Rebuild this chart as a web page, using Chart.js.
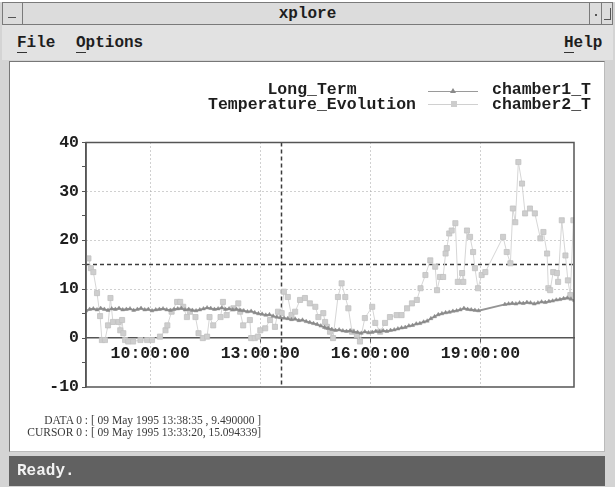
<!DOCTYPE html>
<html>
<head>
<meta charset="utf-8">
<script src="https://cdn.jsdelivr.net/npm/chart.js@4.4.1/dist/chart.umd.min.js"></script>
<style>
  body { margin: 0; width: 615px; height: 488px; background: #fff; position: relative; overflow: hidden;
         font-family: 'Liberation Mono', monospace; color: #1e1e1e; }
  .abs { position: absolute; }
  #win { left: 0; top: 2px; width: 615px; height: 485px; background: #d4d4d4; }
  #title { left: 2px; top: 2px; width: 609px; height: 21px; background: #dcdcdc; border: 1px solid #7a7a7a; }
  #title .txt { left: 0; width: 609px; top: 2px; text-align: center; font-weight: bold; font-size: 16px; }
  #btnL { left: 0; top: 0; width: 19px; height: 21px; border-right: 1px solid #7a7a7a; }
  #btnL i { position: absolute; left: 5px; top: 14px; width: 8px; height: 1px; background: #555; }
  #btnR1 { left: 586px; top: 0; width: 11px; height: 21px; border-left: 1px solid #7a7a7a; }
  #btnR1 i { position: absolute; left: 5px; top: 11px; width: 2px; height: 2px; background: #555; }
  #btnR2 { left: 598px; top: 0; width: 11px; height: 21px; border-left: 1px solid #7a7a7a; }
  #btnR2 i { position: absolute; left: 2px; top: 5px; width: 6px; height: 11px; border-right: 1px solid #555; border-bottom: 1px solid #555; }
  #menu { left: 2px; top: 25px; width: 611px; height: 35px; background: #e2e2e2; font-weight: bold; font-size: 16px; }
  #menu span { position: absolute; top: 9px; }
  #menu u { text-decoration: none; border-bottom: 1px solid #333; }
  #panel { left: 9px; top: 61px; width: 594px; height: 389px; background: #fff; border: 1px solid #777; border-right-color: #bbb; border-bottom-color: #bbb; }
  #status { left: 9px; top: 456px; width: 596px; height: 30px; background: #616161; color: #f2f2f2;
            font-weight: bold; font-size: 16px; }
  #status span { position: absolute; left: 8px; top: 6px; }
  #chart { left: 12px; top: 64px; }
  .leg { font-weight: bold; font-size: 16.5px; line-height: 15px; }
  #legTitle { left: 190px; width: 244px; top: 82px; text-align: center; }
  .sample { position: absolute; left: 428px; width: 50px; height: 1px; }
  .sample i { position: absolute; left: 22px; }
  #cursor { left: 14px; top: 414px; font-family: 'Liberation Serif', serif; font-size: 11.5px; line-height: 12px; color: #3a3a3a; }
  #cursor .lab { display: inline-block; width: 74px; text-align: right; }
</style>
</head>
<body>
<div id="win" class="abs"></div>
<div id="title" class="abs">
  <div id="btnL" class="abs"><i></i></div>
  <div class="abs txt">xplore</div>
  <div id="btnR1" class="abs"><i></i></div>
  <div id="btnR2" class="abs"><i></i></div>
</div>
<div id="menu" class="abs">
  <span style="left:15px"><u>F</u>ile</span>
  <span style="left:74px"><u>O</u>ptions</span>
  <span style="left:562px"><u>H</u>elp</span>
</div>
<div id="panel" class="abs"></div>
<canvas id="chart" class="abs" width="590" height="380"></canvas>

<div id="legTitle" class="abs leg">Long_Term<br>Temperature_Evolution</div>
<div class="sample" style="top:91px;background:#9a9a9a"><i style="top:-3px;width:0;height:0;border-left:3px solid transparent;border-right:3px solid transparent;border-bottom:5px solid #8a8a8a"></i></div>
<div class="sample" style="top:104px;background:#d0d0d0"><i style="top:-3px;left:23px;width:6px;height:6px;background:#cdcdcd"></i></div>
<div class="abs leg" style="left:492px;top:82px">chamber1_T<br>chamber2_T</div>

<div id="cursor" class="abs"></div>
<div id="status" class="abs"><span>Ready.</span></div>

<script>
// chamber1_T, long term trend (time of day, deg C)
const chamber1Times = [
  '08:15','08:21','08:27','08:33','08:39','08:45','08:51','08:57','09:03','09:09',
  '09:15','09:21','09:27','09:33','09:39','09:45','09:51','09:57','10:03','10:09',
  '10:15','10:21','10:27','10:33','10:39','10:45','10:51','10:57','11:03','11:09',
  '11:15','11:21','11:27','11:33','11:39','11:45','11:51','11:57','12:03','12:09',
  '12:15','12:21','12:27',
  '12:33','12:39','12:45','12:51','12:57','13:03','13:09','13:15','13:21','13:27','13:33',
  '13:39','13:45','13:51','13:57','14:03','14:09','14:15','14:21','14:27','14:33',
  '14:39','14:45','14:51','14:57','15:03','15:09','15:15','15:21','15:27','15:33',
  '15:39','15:45','15:51','15:57','16:03','16:09','16:15','16:21','16:27','16:33',
  '16:39','16:45','16:51','16:57','17:03','17:09','17:15','17:21','17:27','17:33',
  '17:39','17:45','17:51','17:57','18:03','18:09','18:15','18:21','18:27','18:33',
  '18:39','18:45','18:51','18:57',
  '19:40','19:46','19:52','19:58','20:04','20:10','20:16','20:22','20:28','20:34',
  '20:40','20:46','20:52','20:58','21:04','21:10','21:16','21:22','21:28','21:34'
];
const chamber1Temps = [
  5.6, 5.9, 6.0, 5.8, 6.1, 5.9, 5.7, 6.0, 5.9, 6.1,
  5.8, 5.9, 6.0, 5.7, 5.9, 6.1, 5.8, 5.9, 5.6, 5.8,
  5.9, 6.0, 5.8, 5.7, 5.9, 6.0, 6.1, 5.8, 5.9, 5.7,
  5.6, 5.8, 6.0, 6.2, 6.1, 5.9, 6.0, 6.2, 5.9, 6.0,
  5.8, 5.9, 5.7,
  5.6, 5.4, 5.5, 5.2, 5.0, 4.9, 4.7, 4.8, 4.5, 4.3, 4.2,
  4.1, 4.0, 3.8, 3.9, 3.6, 3.7, 3.4, 3.2, 3.0, 2.8,
  2.5, 2.2, 2.0, 1.8, 1.6, 1.7, 1.5, 1.4, 1.5, 1.3,
  1.2, 1.0, 1.3, 1.1, 1.2, 1.4, 1.3, 1.5, 1.4, 1.6,
  1.7, 1.9, 2.1, 2.2, 2.5, 2.6, 2.9, 3.0, 3.3, 3.5,
  4.0, 4.4, 4.8, 5.0, 5.2, 5.3, 5.5, 5.6, 5.8, 6.1,
  5.9, 5.8, 5.7, 5.6,
  6.9, 7.0, 7.1, 7.0, 7.2, 7.1, 7.3, 7.2, 7.0, 7.2,
  7.4, 7.3, 7.5, 7.6, 7.8, 7.9, 8.1, 8.2, 8.0, 7.7
];

// chamber2_T, raw readings
const chamber2Times = [
  '08:19','08:23','08:27','08:33','08:38','08:41','08:46','08:51','08:55','08:59',
  '09:08','09:11','09:14','09:16','09:19','09:24','09:32','09:44','09:55','10:03',
  '10:16','10:25','10:28','10:35','10:44','10:49','10:54','11:00','11:05','11:14',
  '11:19','11:26','11:33','11:37','11:43','11:55','11:59','12:05','12:16','12:24',
  '12:27','12:32','12:43','12:45','12:51','12:56','13:00','13:08','13:16','13:24',
  '13:29','13:35','13:38:35','13:45','13:51','13:57','14:05','14:13','14:21','14:30',
  '14:35','14:43','14:46','14:49','14:54','14:59','15:07','15:13','15:19','15:24',
  '15:30','15:38','15:43','15:51','16:03','16:08','16:16','16:24','16:32','16:43',
  '16:51','17:00','17:08','17:16','17:22','17:30','17:38','17:46','17:49','17:54',
  '17:59','18:03','18:05','18:09','18:13','18:19','18:23','18:30','18:32','18:38',
  '18:43','18:48','18:51','18:56','19:02','19:08','19:37','19:43','19:49','19:53',
  '19:57','20:02','20:08','20:13','20:21','20:29','20:38','20:43','20:49','20:51',
  '20:54','20:59','21:05','21:07','21:13','21:19','21:23','21:27','21:32'
];
const chamber2Temps = [
  16.3, 14.3, 13.5, 9.2, 4.5, -0.4, -0.4, 2.6, 8.2, 3.3,
  3.3, 1.6, 3.7, 1.0, -0.4, -0.7, -0.7, -0.4, -0.4, -0.4,
  0.3, 1.6, 2.6, 5.4, 7.4, 7.4, 6.4, 4.3, 5.4, 4.3,
  1.0, 0.0, 0.3, 4.3, 2.6, 4.3, 7.4, 4.7, 6.1, 7.1,
  5.4, 2.6, 3.7, 0.0, 0.0, 0.3, 1.6, 2.0, 3.7, 2.3,
  5.4, 5.1, 9.49, 8.4, 4.7, 5.4, 7.8, 8.2, 7.1, 6.4,
  4.3, 5.1, 3.3, 2.3, 1.3, 0.0, 8.4, 11.2, 8.4, 6.1,
  1.3, 0.6, -0.7, 4.1, 6.4, 3.1, 1.3, 3.1, 4.3, 4.7,
  4.7, 6.1, 7.1, 7.8, 10.2, 12.9, 15.9, 14.6, 9.8, 12.5,
  12.5, 17.3, 18.4, 21.4, 22.0, 23.5, 11.5, 13.3, 11.5, 22.0,
  20.7, 17.6, 14.3, 10.2, 12.9, 13.5, 20.7, 17.6, 15.3, 26.5,
  23.7, 36.0, 31.6, 25.5, 26.5, 25.5, 20.4, 21.7, 17.3, 10.2,
  9.8, 13.5, 13.3, 11.5, 24.1, 16.9, 11.8, 8.8, 24.1
];

const xRange = ['08:15', '21:33'];
const xTickTimes = ['10:00:00', '13:00:00', '16:00:00', '19:00:00'];
const yRange = [-10, 40];
const yLabelStep = 10;

const dataPoint = { date: '09 May 1995', time: '13:38:35', value: 9.49 };
const cursorPoint = { date: '09 May 1995', time: '13:33:20', value: 15.094339 };

function toHours(t) {
  const p = t.split(':').map(Number);
  return p[0] + (p[1] || 0) / 60 + (p[2] || 0) / 3600;
}

function pad(n) { return String(n).padStart(2, '0'); }

document.getElementById('cursor').innerHTML =
  '<span class="lab">DATA 0 :</span> [ ' + dataPoint.date + ' ' + dataPoint.time + ' , ' + dataPoint.value.toFixed(6) + ' ]<br>' +
  '<span class="lab">CURSOR 0 :</span> [ ' + cursorPoint.date + ' ' + cursorPoint.time + ', ' + cursorPoint.value.toFixed(6) + ']';

const tickFont = { family: 'Liberation Mono', size: 16.5, weight: 'bold' };

// plot frame plus the dashed cursor crosshair
const framePlugin = {
  id: 'frame',
  beforeDatasetsDraw(chart) {
    const { ctx, chartArea: a, scales } = chart;
    const cx = Math.round(scales.x.getPixelForValue(toHours(cursorPoint.time))) + 0.5;
    const cy = Math.round(scales.y.getPixelForValue(cursorPoint.value)) + 0.5;
    ctx.save();
    ctx.strokeStyle = '#3c3c3c';
    ctx.lineWidth = 1.5;
    ctx.setLineDash([4, 3]);
    ctx.beginPath();
    ctx.moveTo(cx, a.top); ctx.lineTo(cx, a.bottom);
    ctx.moveTo(a.left, cy); ctx.lineTo(a.right, cy);
    ctx.stroke();
    ctx.restore();
  },
  afterDatasetsDraw(chart) {
    const { ctx, chartArea: a } = chart;
    ctx.save();
    ctx.strokeStyle = '#555';
    ctx.lineWidth = 1.5;
    ctx.strokeRect(a.left, a.top, a.right - a.left, a.bottom - a.top);
    ctx.restore();
  }
};

const ctx = document.getElementById('chart').getContext('2d');
new Chart(ctx, {
  type: 'line',
  data: {
    datasets: [{
      label: 'chamber1_T',
      data: chamber1Times.map((t, i) => ({ x: toHours(t), y: chamber1Temps[i] })),
      borderColor: '#959595',
      backgroundColor: '#8a8a8a',
      borderWidth: 1.8,
      pointStyle: 'triangle',
      pointRadius: 2.3,
      pointBorderWidth: 0.5,
      pointBorderColor: '#8a8a8a',
      order: 0
    }, {
      label: 'chamber2_T',
      data: chamber2Times.map((t, i) => ({ x: toHours(t), y: chamber2Temps[i] })),
      borderColor: '#d6d6d6',
      backgroundColor: '#cecece',
      borderWidth: 1,
      pointStyle: 'rect',
      pointRadius: 3.6,
      pointBorderWidth: 0.8,
      pointBorderColor: '#c2c2c2',
      order: 1
    }]
  },
  options: {
    responsive: false,
    animation: false,
    layout: { padding: { left: 34, top: 78.5, right: 28, bottom: 57 } },
    plugins: { legend: { display: false }, tooltip: { enabled: false } },
    scales: {
      x: {
        type: 'linear',
        min: toHours(xRange[0]),
        max: toHours(xRange[1]),
        position: { y: 0 },
        afterFit: scale => { scale.height = 0; },
        afterBuildTicks: scale => {
          scale.ticks = xTickTimes.map(t => ({ value: toHours(t) }));
        },
        ticks: {
          autoSkip: false,
          maxRotation: 0,
          padding: 2,
          font: tickFont,
          color: '#1e1e1e',
          callback: value => pad(Math.floor(value)) + ':00:00'
        },
        grid: { color: '#a0a0a0', lineWidth: 1, tickLength: 4, tickColor: '#555' },
        border: { display: true, color: '#555', width: 1.5, dash: [1, 3] }
      },
      y: {
        min: yRange[0],
        max: yRange[1],
        afterFit: scale => { scale.width = 40; },
        ticks: {
          stepSize: 5,
          padding: 3,
          font: tickFont,
          color: '#1e1e1e',
          callback: value => (value % yLabelStep === 0 ? String(value) : '')
        },
        grid: {
          color: c => (c.tick && c.tick.value % yLabelStep === 0 && c.tick.value > yRange[0] && c.tick.value < yRange[1] && c.tick.value !== 0) ? '#a0a0a0' : 'rgba(0,0,0,0)',
          tickLength: 4,
          tickColor: '#555'
        },
        border: { display: true, color: '#555', width: 1.5, dash: [1, 3] }
      }
    }
  },
  plugins: [framePlugin]
});
</script>
</body>
</html>
